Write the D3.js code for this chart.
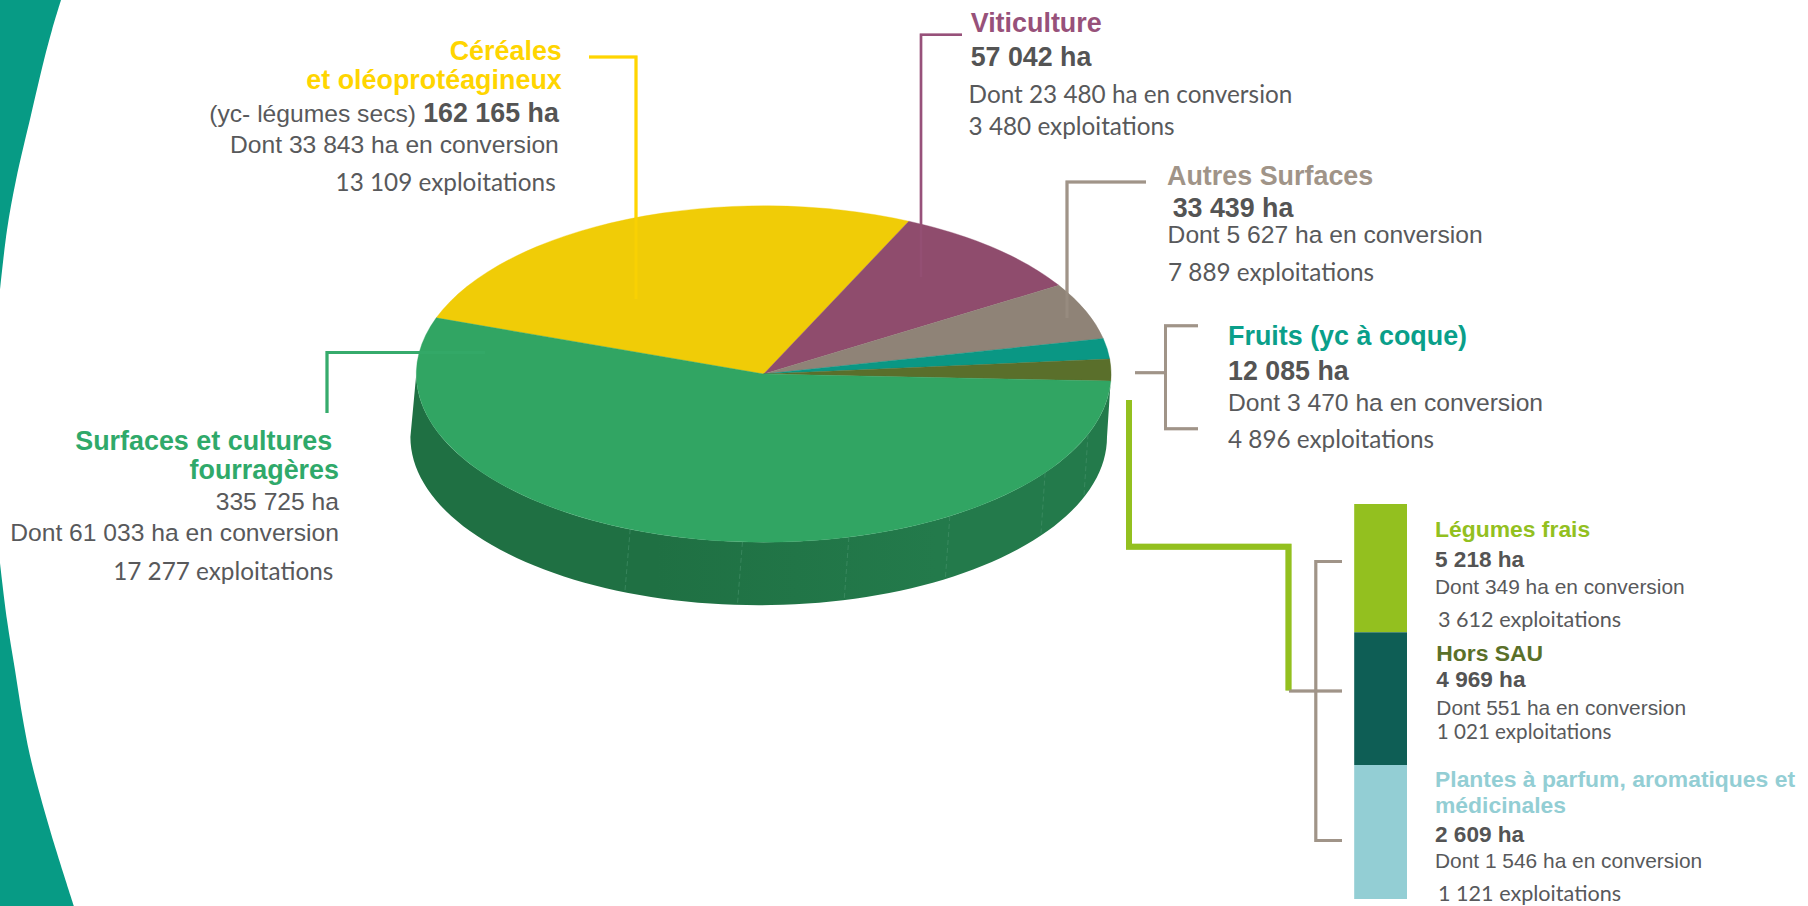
<!DOCTYPE html>
<html>
  <head>
    <meta charset="utf-8">
    <title>Surfaces en bio</title>
<style>

html, body { margin: 0; padding: 0; background: #fff; }
svg { display: block; }

text { font-family: "Liberation Sans", Arial, sans-serif; fill: #58595b; }
.title { font-weight: bold; font-size: 26.9px; }
.big { font-weight: bold; font-size: 26.8px; fill: #545454; }
.plain { font-size: 24.65px; }
.cal { font-family: Lato, sans-serif; font-size: 24.3px; }
.titleS { font-weight: bold; font-size: 22.9px; }
.bigS { font-weight: bold; font-size: 22.6px; fill: #545454; }
.plainS { font-size: 20.9px; }
.calS { font-family: Lato, sans-serif; font-size: 21.6px; }

.leader { fill: none; stroke-linejoin: miter; }

</style>
	<script src="https://d3js.org/d3.v7.min.js"></script>
  </head>
  <body>

	<svg id="chart" width="1808" height="906"></svg>
	<script type="text/javascript">

		// pie categories, in hectares
		var pieNames = ["Céréales", "Viticulture", "Autres Surfaces", "Fruits", "Reste", "Surfaces et cultures fourragères"];
		var pieValues = [162165, 57042, 33439, 12085, 12796, 335725];
		var pieColors = ["#f0cc07", "#8f4c6d", "#8f8377", "#0a9784", "#5a6f2b", "#31a563"];

		// the small column on the right (detail of "Reste")
		var stackNames = ["Légumes frais", "Hors SAU", "Plantes à parfum"];
		var stackValues = [5218, 4969, 2609];
		var stackColors = ["#93c01f", "#0e5e55", "#93ced4"];

		// "Dont ... ha en conversion"
		var convPie = [33843, 23480, 5627, 3470, 61033];
		var convStack = [349, 551, 1546];

		// exploitations
		var exploitPie = [13109, 3480, 7889, 4896, 17277];
		var exploitStack = [3612, 1021, 1121];

		// faint seams on the side of the pie, degrees clockwise from the top
		var seamAngles = [111, 125.9, 147.6, 165.8, 183.5, 202.6];

		// teal decoration on the left edge
		var edgeTop = [[61, 0], [52, 30], [44, 60], [31, 115], [16, 180], [7, 230], [0, 290]];
		var edgeBottom = [[0, 563], [7, 620], [15, 670], [23, 720], [31, 760], [50, 830], [74, 906]];

		var svg = d3.select("#chart");
		var rad = Math.PI / 180;

		var fr = d3.formatLocale({decimal: ",", thousands: " ", grouping: [3], currency: ["", ""]}).format(",d");

		// ---- left edge
		var edgeLine = d3.line().curve(d3.curveCatmullRom);
		svg.append("path")
			.attr("d", edgeLine(edgeTop) + "L0,0Z")
			.attr("fill", "#079b85");
		svg.append("path")
			.attr("d", edgeLine(edgeBottom) + "L0,906Z")
			.attr("fill", "#079b85");

		// ---- pie
		var top3d = {cx: 763.7, cy: 374, rx: 347.4, ry: 168.2};
		var low3d = {cx: 758.7, cy: 437, rx: 348.3, ry: 168.2};

		function onEllipse(e, deg) {
			return [e.cx + e.rx * Math.sin(deg * rad), e.cy - e.ry * Math.cos(deg * rad)];
		}

		var grad = svg.append("defs").append("linearGradient")
			.attr("id", "side")
			.attr("x1", 0).attr("x2", 1).attr("y1", 0).attr("y2", 0);
		grad.append("stop").attr("offset", "0.35").attr("stop-color", "#1f7043");
		grad.append("stop").attr("offset", "0.75").attr("stop-color", "#237a4b");

		// side wall: lower half of the bottom ellipse closed over the top ellipse
		var sweep = d3.range(90, 271, 2);
		var sidePts = sweep.map(function(a) { return onEllipse(low3d, a); })
			.concat(sweep.slice().reverse().map(function(a) { return onEllipse(top3d, a); }));
		svg.append("path")
			.attr("d", d3.line()(sidePts) + "Z")
			.attr("fill", "url(#side)");

		svg.selectAll(".seam")
			.data(seamAngles)
			.enter().append("line")
			.attr("class", "seam")
			.attr("x1", function(d) { return onEllipse(top3d, d)[0]; })
			.attr("y1", function(d) { return onEllipse(top3d, d)[1]; })
			.attr("x2", function(d) { return onEllipse(low3d, d)[0]; })
			.attr("y2", function(d) { return onEllipse(low3d, d)[1]; })
			.attr("stroke", "#4b9670")
			.attr("stroke-width", 1)
			.attr("stroke-dasharray", "5 3")
			.attr("opacity", 0.55);

		// leaders go under the pie, then once more on top, faintly
		var leaders = [
			{c: "#ffd500", w: 3, p: [[589, 57], [636, 57], [636, 299]]},
			{c: "#97517a", w: 2.5, p: [[962, 34.7], [921, 34.7], [921, 277]]},
			{c: "#a09488", w: 3, p: [[1146, 182], [1067, 182], [1067, 318]]},
			{c: "#36ab6c", w: 3, p: [[327, 413], [327, 352.5], [485, 352.5]]},
			{c: "#a09488", w: 3, p: [[1198, 325.7], [1165.5, 325.7], [1165.5, 428.7], [1198, 428.7]]},
			{c: "#a09488", w: 3, p: [[1135, 372.7], [1165.5, 372.7]]},
			{c: "#93c01f", w: 6, p: [[1129, 400], [1129, 546.8], [1288.5, 546.8], [1288.5, 690.5]]},
			{c: "#a09488", w: 3, p: [[1342, 561.5], [1315.8, 561.5], [1315.8, 840.4], [1342, 840.4]]},
			{c: "#a09488", w: 3, p: [[1289, 691], [1342, 691]]}
		];
		function drawLeaders(op) {
			svg.append("g").selectAll("path")
				.data(leaders)
				.enter().append("path")
				.attr("class", "leader")
				.attr("d", function(d) { return d3.line()(d.p); })
				.attr("stroke", function(d) { return d.c; })
				.attr("stroke-width", function(d) { return d.w; })
				.attr("opacity", op);
		}
		drawLeaders(1);

		var pie = d3.pie().sort(null).startAngle(-70.5 * rad).endAngle(289.5 * rad);
		var arc = d3.arc().innerRadius(0).outerRadius(top3d.rx);

		svg.append("g")
			.attr("transform", "translate(" + top3d.cx + "," + top3d.cy + ") scale(1," + (top3d.ry / top3d.rx) + ")")
			.selectAll("path")
			.data(pie(pieValues))
			.enter().append("path")
			.attr("d", arc)
			.attr("fill", function(d, i) { return pieColors[i]; })
			.attr("stroke", function(d, i) { return pieColors[i]; })
			.attr("stroke-width", 0.5)
			.append("title").text(function(d, i) { return pieNames[i]; });

		drawLeaders(0.5);

		// ---- small stacked column, steps
		var stackY = d3.scaleLinear().domain([0, 1, 2, 3]).range([504, 632.3, 765, 899]);
		svg.selectAll(".stack")
			.data(stackValues)
			.enter().append("rect")
			.attr("class", "stack")
			.attr("x", 1354.2)
			.attr("width", 52.8)
			.attr("y", function(d, i) { return stackY(i); })
			.attr("height", function(d, i) { return stackY(i + 1) - stackY(i); })
			.attr("fill", function(d, i) { return stackColors[i]; })
			.append("title").text(function(d, i) { return stackNames[i]; });

		// ---- texts
		function put(x, y, str, cls, anchor, color) {
			var t = svg.append("text")
				.attr("x", x).attr("y", y)
				.attr("class", cls)
				.attr("text-anchor", anchor || "start")
				.text(str);
			if (color) t.style("fill", color);
			return t;
		}
		var ha = function(v) { return fr(v) + " ha"; };
		var dont = function(v) { return "Dont " + fr(v) + " ha en conversion"; };
		var expl = function(v) { return fr(v) + " exploitations"; };

		// céréales
		put(561.8, 60, "Céréales", "title", "end", "#ffd500");
		put(561.8, 89, "et oléoprotéagineux", "title", "end", "#ffd500");
		put(416, 121.7, "(yc- légumes secs)", "plain", "end");
		put(558.8, 121.7, ha(pieValues[0]), "big", "end");
		put(558.8, 152.7, dont(convPie[0]), "plain", "end");
		put(555.7, 191, expl(exploitPie[0]), "cal", "end");

		// viticulture
		put(970.7, 31.7, pieNames[1], "title", "start", "#97517a");
		put(970.7, 65.7, ha(pieValues[1]), "big");
		put(968.6, 102.7, dont(convPie[1]), "cal");
		put(968.6, 135.3, expl(exploitPie[1]), "cal");

		// autres surfaces
		put(1167, 185, pieNames[2], "title", "start", "#a09488");
		put(1172.7, 216.7, ha(pieValues[2]), "big");
		put(1167.6, 243.3, dont(convPie[2]), "plain");
		put(1168, 281, expl(exploitPie[2]), "cal");

		// fruits
		put(1228, 345, "Fruits (yc à coque)", "title", "start", "#0a9f8a");
		put(1228, 380, ha(pieValues[3]), "big");
		put(1228, 411, dont(convPie[3]), "plain");
		put(1228, 448.3, expl(exploitPie[3]), "cal");

		// fourrages
		put(332.3, 450, "Surfaces et cultures", "title", "end", "#2fa96a");
		put(339, 479.3, "fourragères", "title", "end", "#2fa96a");
		put(339, 510.3, ha(pieValues[5]), "plain", "end");
		put(339, 540.7, dont(convPie[4]), "plain", "end");
		put(333.3, 580, expl(exploitPie[4]), "cal", "end");

		// légumes frais
		put(1435, 536.7, stackNames[0], "titleS", "start", "#93c01f");
		put(1435, 566.6, ha(stackValues[0]), "bigS");
		put(1435, 593.8, dont(convStack[0]), "plainS");
		put(1438, 627.3, expl(exploitStack[0]), "calS");

		// hors SAU
		put(1436.3, 661.2, stackNames[1], "titleS", "start", "#5a7029");
		put(1436.3, 687.4, ha(stackValues[1]), "bigS");
		put(1436.3, 714.6, dont(convStack[1]), "plainS");
		put(1436.8, 739, expl(exploitStack[1]), "calS").style("font-size", "20.6px");

		// plantes
		put(1435, 787, "Plantes à parfum, aromatiques et", "titleS", "start", "#93ced4");
		put(1435, 812.9, "médicinales", "titleS", "start", "#93ced4");
		put(1435, 842.4, ha(stackValues[2]), "bigS");
		put(1435, 868.3, dont(convStack[2]), "plainS");
		put(1438, 901.1, expl(exploitStack[2]), "calS");

    </script>
  </body>
</html>
